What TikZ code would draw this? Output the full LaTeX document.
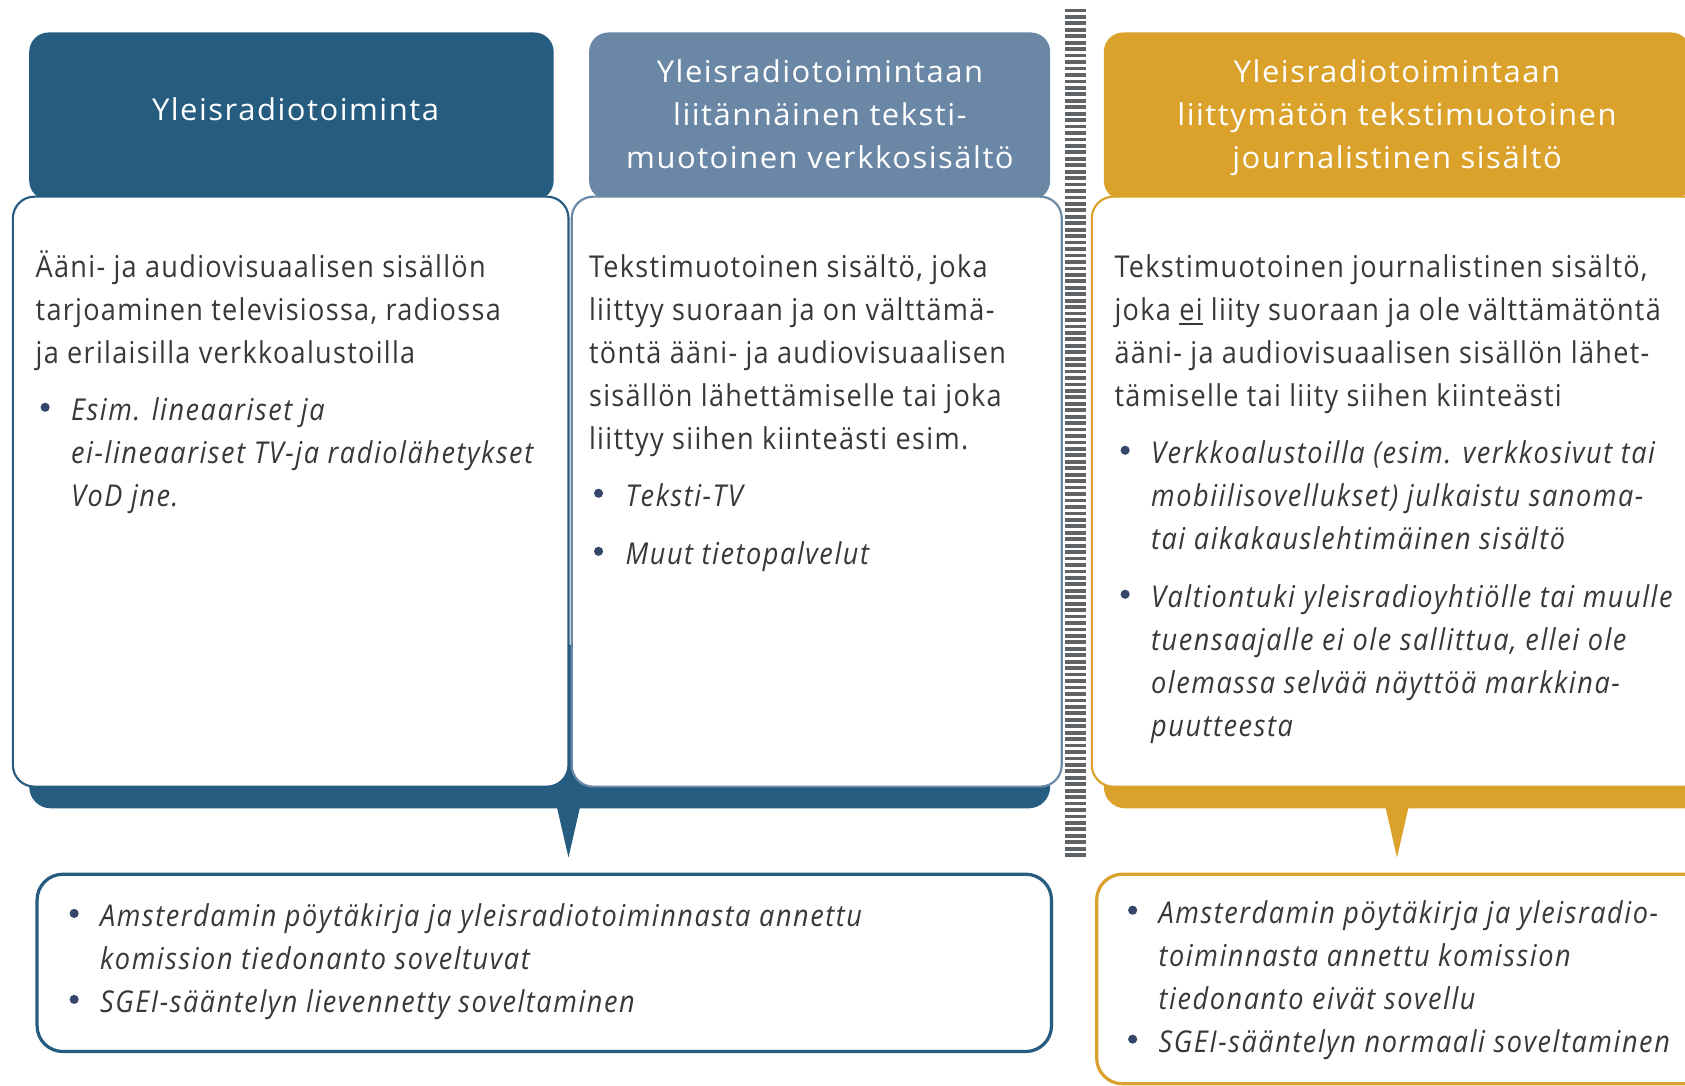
\documentclass[tikz,border=0pt]{standalone}
\usepackage{fontspec}
\setmainfont{Open Sans}[FakeStretch=0.9, LetterSpace=4.3, ItalicFeatures={LetterSpace=5.2}]
\newfontfamily\headfont{Open Sans}[FakeStretch=1.03, LetterSpace=5]
\definecolor{dblue}{HTML}{255C80}
\definecolor{sblue}{HTML}{6A87A6}
\definecolor{gold}{HTML}{DBA22B}
\definecolor{divgray}{HTML}{5F6366}
\definecolor{txtgray}{HTML}{383838}
\definecolor{bulcol}{HTML}{34476A}
\newcommand\myul[1]{\setbox0\hbox{#1}\rlap{\rule[-4pt]{\wd0}{1.8pt}}\box0\relax}
\begin{document}
\begin{tikzpicture}[x=1pt,y=-1pt,
  hdr/.style={rounded corners=18, inner sep=0, anchor=north west},
  cbox/.style={draw, line width=2, fill=white, rounded corners=20, anchor=north west, inner sep=0},
  bbox/.style={draw, line width=3, fill=white, rounded corners=24, anchor=north west, inner sep=0},
  band/.style={rounded corners=20, inner sep=0, anchor=north west},
  txt/.style={anchor=base west, inner sep=0, text=txtgray, font=\fontsize{28}{40}\selectfont},
  itxt/.style={txt, font=\fontsize{28}{40}\selectfont\itshape},
  htxt/.style={anchor=base, inner sep=0, text=white, font=\headfont\fontsize{28}{40}\selectfont},
  dot/.style={circle, fill=bulcol, inner sep=0, minimum size=8.5},
  divider/.style={line width=20, color=divgray, dash pattern=on 3.5 off 2.5}]
\useasboundingbox (0,0) rectangle (1568,1010);
\clip (0,0) rectangle (1568,1010);
\fill[white] (0,0) rectangle (1568,1010);

% bands behind content boxes
\node[band, fill=dblue, minimum width=950, minimum height=152] (band1) at (27,600) {};
\node[band, fill=gold, minimum width=560, minimum height=152] (band3) at (1027,600) {};

% headers
\node[hdr, fill=dblue, minimum width=488, minimum height=156] (h1) at (27,30) {};
\node[hdr, fill=sblue, minimum width=429, minimum height=156] (h2) at (548,30) {};
\node[hdr, fill=gold, minimum width=546, minimum height=156] (h3) at (1027,30) {};

% content boxes
\node[cbox, draw=dblue, minimum width=517, minimum height=549] (c1) at (11,182) {};
\node[cbox, draw=sblue, minimum width=456, minimum height=549] (c2) at (531,182) {};
\node[cbox, draw=gold, minimum width=580, minimum height=549] (c3) at (1015,182) {};

% pointers
\coordinate (p1) at (529,798);
\coordinate (p3) at (1300,798);
\fill[dblue] (518,750) -- (540,750) -- (p1) -- cycle;
\fill[gold] (1289,750) -- (1311,750) -- (p3) -- cycle;

% divider
\coordinate (d1) at (1001,8);
\coordinate (d2) at (1001,798);
\draw[divider] (d1) -- (d2);

% bottom boxes
\node[bbox, draw=dblue, minimum width=944, minimum height=165] (b1) at (33,812) {};
\node[bbox, draw=gold, minimum width=570, minimum height=195] (b3) at (1019,812) {};

% header texts
\node[htxt] (h1t) at (275,112) {\parbox[t]{520pt}{\centering Yleisradiotoiminta}};
\node[htxt] (h2t) at (763,77) {\parbox[t]{520pt}{\centering Yleisradiotoimintaan\\ liitännäinen teksti-\\ muotoinen verkkosisältö}};
\node[htxt] (h3t) at (1300,77) {\parbox[t]{560pt}{\centering Yleisradiotoimintaan\\ liittymätön tekstimuotoinen\\ journalistinen sisältö}};

% column 1
\node[txt] (t1a) at (33,258) {\parbox[t]{520pt}{Ääni- ja audiovisuaalisen sisällön\\ tarjoaminen televisiossa, radiossa\\ ja erilaisilla verkkoalustoilla}};
\node[dot] (d1a) at (42,379) {};
\node[itxt] (t1b) at (66,391) {\parbox[t]{520pt}{Esim. lineaariset ja\\ ei-lineaariset TV-ja radiolähetykset\\ VoD jne.}};

% column 2
\node[txt] (t2a) at (548,258) {\parbox[t]{520pt}{Tekstimuotoinen sisältö, joka\\ liittyy suoraan ja on välttämä-\\ töntä ääni- ja audiovisuaalisen\\ sisällön lähettämiselle tai joka\\ liittyy siihen kiinteästi esim.}};
\node[dot] (d2a) at (557,459) {};
\node[itxt] (t2b) at (582,471) {Teksti-TV};
\node[dot] (d2b) at (557,513) {};
\node[itxt] (t2c) at (582,525) {Muut tietopalvelut};

% column 3
\node[txt] (t3a) at (1037,258) {\parbox[t]{560pt}{Tekstimuotoinen journalistinen sisältö,\\ joka \myul{ei} liity suoraan ja ole välttämätöntä\\ ääni- ja audiovisuaalisen sisällön lähet-\\ tämiselle tai liity siihen kiinteästi}};
\node[dot] (d3a) at (1047,419) {};
\node[itxt] (t3b) at (1071,431) {\parbox[t]{560pt}{Verkkoalustoilla (esim. verkkosivut tai\\ mobiilisovellukset) julkaistu sanoma-\\ tai aikakauslehtimäinen sisältö}};
\node[dot] (d3b) at (1047,553) {};
\node[itxt] (t3c) at (1071,565) {\parbox[t]{560pt}{Valtiontuki yleisradioyhtiölle tai muulle\\ tuensaajalle ei ole sallittua, ellei ole\\ olemassa selvää näyttöä markkina-\\ puutteesta}};

% bottom 1
\node[dot] (d4a) at (69,850) {};
\node[itxt] (t4a) at (93,862) {\parbox[t]{900pt}{Amsterdamin pöytäkirja ja yleisradiotoiminnasta annettu\\ komission tiedonanto soveltuvat}};
\node[dot] (d4b) at (69,930) {};
\node[itxt] (t4b) at (93,942) {SGEI-sääntelyn lievennetty soveltaminen};

% bottom 2
\node[dot] (d5a) at (1054,847) {};
\node[itxt] (t5a) at (1078,859) {\parbox[t]{560pt}{Amsterdamin pöytäkirja ja yleisradio-\\ toiminnasta annettu komission\\ tiedonanto eivät sovellu}};
\node[dot] (d5b) at (1054,967) {};
\node[itxt] (t5b) at (1078,979) {SGEI-sääntelyn normaali soveltaminen};
\end{tikzpicture}
\end{document}
